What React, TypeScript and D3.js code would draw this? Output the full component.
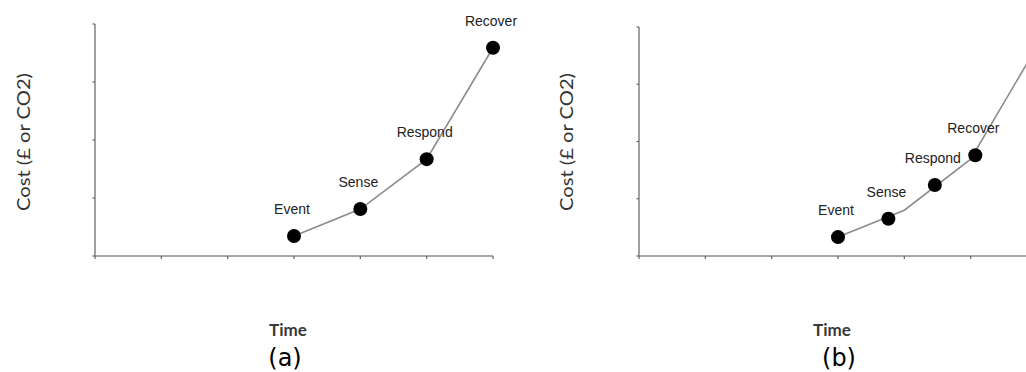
import React from "react";
import * as d3 from "d3";

const stageLabels = ["Event", "Sense", "Respond", "Recover"];
const xTicks = [0, 1, 2, 3, 4, 5, 6];
const yTicks = [0, 1, 2, 3, 4];

// Panel (a): stages one time step apart
const curveTimeA = [3, 4, 5, 6];
const curveCostA = [0.345, 0.81, 1.67, 3.59];
const stageTimeA = [3, 4, 5, 6];
const stageCostA = [0.345, 0.81, 1.67, 3.59];

// Panel (b): same cost curve, stages compressed in time
const curveTimeB = [3, 4, 5, 6];
const curveCostB = [0.33, 0.8, 1.69, 3.66];
const stageTimeB = [3, 3.76, 4.46, 5.07];
const stageCostB = [0.33, 0.65, 1.24, 1.76];

type PanelProps = {
  x0: number;
  x1: number;
  yTop: number;
  curveT: number[];
  curveC: number[];
  stageT: number[];
  stageC: number[];
  titleX: number;
  caption: string;
};

function Panel(p: PanelProps) {
  const x = d3.scaleLinear().domain([0, 6]).range([p.x0, p.x1]);
  const y = d3.scaleLinear().domain([0, 4]).range([256, p.yTop]);
  const line = d3
    .line<number>()
    .x((_, i) => x(p.curveT[i]))
    .y((d) => y(d));
  const axisColor = "#8a8a8a";
  const midX = (x(0) + x(6)) / 2;
  return (
    <g>
      {/* y axis */}
      <line x1={x(0)} x2={x(0)} y1={y(0)} y2={y(4)} stroke={axisColor} strokeWidth={1.6} />
      {yTicks.map((t) => (
        <line key={"yt" + t} x1={x(0) - 2.5} x2={x(0)} y1={y(t)} y2={y(t)} stroke="#666" strokeWidth={1.2} />
      ))}
      {/* x axis */}
      <line x1={x(0)} x2={x(6)} y1={y(0)} y2={y(0)} stroke={axisColor} strokeWidth={1.6} />
      {xTicks.map((t) => (
        <line key={"xt" + t} x1={x(t)} x2={x(t)} y1={y(0)} y2={y(0) + 3} stroke="#666" strokeWidth={1.2} />
      ))}
      {/* curve */}
      <path d={line(p.curveC) || ""} fill="none" stroke="#8c8c8c" strokeWidth={1.6} />
      {/* stages */}
      {p.stageT.map((t, i) => (
        <g key={"s" + i}>
          <circle cx={x(t)} cy={y(p.stageC[i])} r={7} fill="#000" />
          <text
            x={x(t) - 2}
            y={y(p.stageC[i]) - 22}
            textAnchor="middle"
            fontFamily="'Liberation Sans', Arial, sans-serif"
            fontSize={14}
            fill="#222"
          >
            {stageLabels[i]}
          </text>
        </g>
      ))}
      {/* axis titles */}
      <text
        transform={`translate(${p.titleX},142) rotate(-90)`}
        textAnchor="middle"
        dominantBaseline="central"
        fontFamily="Lato, 'Open Sans', sans-serif"
        fontSize={18}
        fill="#333"
        textLength={138}
        lengthAdjust="spacingAndGlyphs"
      >
        Cost (£ or CO2)
      </text>
      <text
        x={midX - 6}
        y={336}
        textAnchor="middle"
        fontFamily="Lato, 'Open Sans', sans-serif"
        fontWeight={700}
        fontSize={17}
        fill="#3a3a3a"
      >
        Time
      </text>
      <text
        x={midX - 9 + (p.caption === "(b)" ? 10 : 0)}
        y={366}
        textAnchor="middle"
        fontFamily="'DejaVu Sans', Verdana, sans-serif"
        fontSize={24}
        fill="#000"
      >
        {p.caption}
      </text>
    </g>
  );
}

export default function App() {
  return (
    <svg
      width={1026}
      height={372}
      style={{ position: "absolute", left: 0, top: 0, background: "#fff" }}
    >
      <rect width={1026} height={372} fill="#fff" />
      <Panel
        x0={95}
        x1={493}
        yTop={24}
        curveT={curveTimeA}
        curveC={curveCostA}
        stageT={stageTimeA}
        stageC={stageCostA}
        titleX={23}
        caption="(a)"
      />
      <Panel
        x0={639}
        x1={1037}
        yTop={27}
        curveT={curveTimeB}
        curveC={curveCostB}
        stageT={stageTimeB}
        stageC={stageCostB}
        titleX={566}
        caption="(b)"
      />
    </svg>
  );
}
